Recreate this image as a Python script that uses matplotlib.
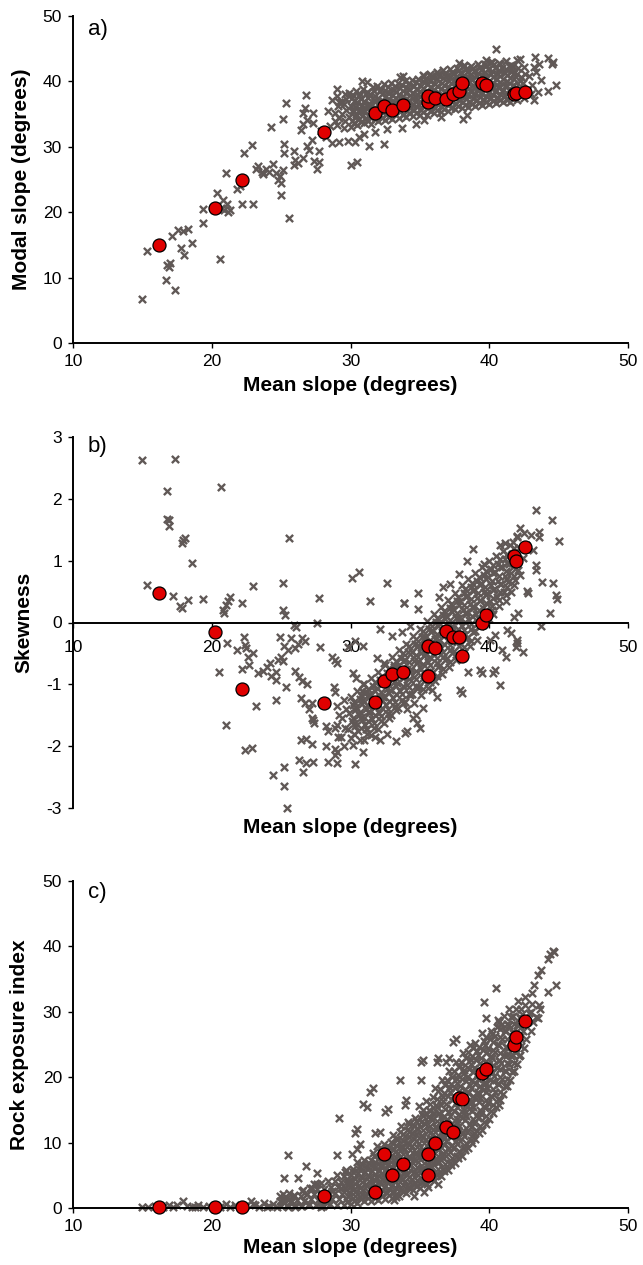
import matplotlib
matplotlib.use("Agg")
import matplotlib.pyplot as plt

plt.rcParams['font.family'] = ['Liberation Sans', 'DejaVu Sans']
plt.rcParams['axes.unicode_minus'] = False

# ---------------- axis / label data ----------------
x_ticks = [10, 20, 30, 40, 50]
a_yticks = [0, 10, 20, 30, 40, 50]
b_yticks = [-3, -2, -1, 0, 1, 2, 3]
c_yticks = [0, 10, 20, 30, 40, 50]
x_label = "Mean slope (degrees)"
a_ylabel = "Modal slope (degrees)"
b_ylabel = "Skewness"
c_ylabel = "Rock exposure index"
panel_tags = ["a)", "b)", "c)"]

# ---------------- red sample sites (shared mean slope) ----------------
site_mean = [16.2, 20.2, 22.2, 28.1, 31.8, 32.4, 33.0, 33.8, 35.6, 35.6,
             36.1, 36.9, 37.4, 37.8, 38.0, 39.5, 39.8, 41.8, 41.9, 42.6]
site_modal = [15.0, 20.6, 25.0, 32.2, 35.2, 36.2, 35.6, 36.4, 36.8, 37.8,
              37.4, 37.3, 38.0, 38.5, 39.8, 39.7, 39.4, 38.0, 38.2, 38.4]
site_skew = [0.47, -0.15, -1.07, -1.30, -1.29, -0.95, -0.84, -0.80, -0.87, -0.38,
             -0.41, -0.14, -0.24, -0.23, -0.54, 0.00, 0.12, 1.08, 1.00, 1.22]
site_rock = [0.2, 0.1, 0.1, 1.8, 2.5, 8.3, 5.0, 6.8, 5.0, 8.2,
             10.0, 12.4, 11.6, 16.8, 16.7, 20.7, 21.3, 25.0, 26.2, 28.6]

# ---------------- panel a: grid cells (grey crosses) ----------------
a_sparse_x = [15.0, 15.3, 16.7, 17.35, 16.8, 17.0, 16.9, 17.8, 18.0, 17.1,
              17.6, 17.9, 18.3, 18.6, 19.35, 19.35, 20.6, 20.4, 21.0, 20.7,
              20.9, 21.1, 21.3, 20.8, 21.2, 22.2, 23.0, 21.8, 22.0, 22.3,
              22.9, 23.2, 23.3, 23.7, 24.1, 24.6, 24.9, 24.8, 25.1, 25.0,
              25.6, 25.0, 24.25, 25.1, 25.35, 25.2, 25.2, 25.9, 26.0, 25.95,
              26.2, 26.6, 26.9, 27.2, 27.0, 27.4, 26.4, 26.6, 26.9, 26.55,
              26.7, 26.8, 27.7, 27.6, 27.7, 27.3, 27.3, 28.7, 29.2, 29.8,
              30.3, 30.0, 30.5, 28.5, 28.9, 28.7, 29.2, 29.7, 31.3, 32.4,
              29.0, 28.4, 27.9, 28.2, 24.4, 23.6, 23.9, 31.0, 30.6, 31.8,
              32.6, 33.7, 34.7, 36.5, 38.1, 38.4, 35.3, 40.5, 43.3, 44.2,
              44.5, 44.6, 44.8, 44.2, 43.2, 43.4, 42.3, 42.2, 42.0, 41.6,
              33.6, 33.8, 31.2, 30.8, 37.8, 38.2, 39.8, 40.1]
a_sparse_y = [6.8, 14.0, 9.6, 8.1, 11.9, 12.2, 11.6, 14.5, 13.5, 16.3,
              17.3, 17.2, 17.4, 15.3, 18.3, 20.5, 12.8, 23.0, 26.0, 20.6,
              20.3, 21.2, 20.4, 21.8, 20.1, 21.2, 21.3, 23.5, 24.0, 29.0,
              30.3, 26.6, 27.1, 25.9, 26.2, 26.0, 25.6, 25.0, 26.4, 24.4,
              19.1, 22.6, 33.0, 34.2, 36.7, 29.0, 30.5, 27.2, 28.0, 29.4,
              27.5, 28.3, 30.1, 31.0, 29.5, 27.8, 32.6, 33.5, 34.1, 35.1,
              36.0, 37.9, 29.3, 26.6, 27.6, 33.6, 35.2, 30.6, 30.8, 30.9,
              30.7, 27.2, 27.6, 33.2, 34.0, 37.1, 36.8, 37.3, 30.1, 30.4,
              38.9, 35.5, 32.4, 31.5, 27.4, 26.1, 26.6, 32.0, 31.5, 32.3,
              32.7, 32.8, 33.5, 34.5, 34.3, 34.8, 34.1, 45.0, 43.7, 43.6,
              42.6, 43.0, 39.4, 38.6, 37.1, 41.4, 40.6, 43.5, 43.2, 42.5,
              40.7, 40.8, 39.9, 40.1, 42.8, 42.5, 43.2, 42.9]

a_dense_x = [29.0, 29.2, 28.9, 29.1, 29.3, 29.0,
             29.5, 29.6, 29.4, 29.7, 29.5, 29.6,
             30.0, 30.1, 29.9, 30.2, 30.0, 30.1, 29.9,
             30.5, 30.6, 30.4, 30.7, 30.5, 30.6, 30.4,
             31.0, 31.1, 30.9, 31.2, 31.0, 31.1, 30.9,
             31.5, 31.4, 31.6, 31.5, 31.7, 31.4, 31.6,
             32.0, 32.1, 31.9, 32.2, 32.0, 32.1, 31.9,
             32.5, 32.6, 32.4, 32.7, 32.5, 32.6, 32.4,
             33.0, 33.1, 32.9, 33.2, 33.0, 33.1, 32.9,
             33.5, 33.6, 33.4, 33.7, 33.5, 33.6, 33.4,
             34.0, 34.1, 33.9, 34.2, 34.0, 34.1, 33.9,
             34.5, 34.6, 34.4, 34.7, 34.5, 34.6, 34.4,
             35.0, 35.1, 34.9, 35.2, 35.0, 35.1, 34.9, 35.2,
             35.5, 35.6, 35.4, 35.7, 35.5, 35.6, 35.4, 35.7,
             36.0, 36.1, 35.9, 36.2, 36.0, 36.1, 35.9, 36.2,
             36.5, 36.6, 36.4, 36.7, 36.5, 36.6, 36.4, 36.7,
             37.0, 37.1, 36.9, 37.2, 37.0, 37.1, 36.9, 37.2,
             37.5, 37.6, 37.4, 37.7, 37.5, 37.6, 37.4, 37.7,
             38.0, 38.1, 37.9, 38.2, 38.0, 38.1, 37.9, 38.2,
             38.5, 38.6, 38.4, 38.7, 38.5, 38.6, 38.4, 38.7,
             39.0, 39.1, 38.9, 39.2, 39.0, 39.1, 38.9, 39.2,
             39.5, 39.6, 39.4, 39.7, 39.5, 39.6, 39.4, 39.7,
             40.0, 40.1, 39.9, 40.2, 40.0, 40.1, 39.9, 40.2,
             40.5, 40.6, 40.4, 40.7, 40.5, 40.6, 40.4, 40.7,
             41.0, 41.1, 40.9, 41.2, 41.0, 41.1, 40.9, 41.2,
             41.5, 41.6, 41.4, 41.7, 41.5, 41.6, 41.4,
             42.0, 42.1, 41.9, 42.2, 42.0, 42.1,
             42.5, 42.7, 42.4, 42.6, 42.5,
             43.0, 43.1, 42.9, 43.2,
             43.5, 43.7, 43.6]
a_dense_y = [33.4, 34.4, 35.1, 36.2, 36.9, 37.7,
             32.9, 34.0, 35.0, 35.7, 36.6, 38.0,
             33.1, 33.9, 34.6, 35.6, 36.3, 37.4, 38.3,
             33.3, 34.2, 35.0, 35.8, 36.9, 37.7, 38.5,
             33.7, 34.4, 35.4, 36.2, 37.0, 38.1, 38.8,
             33.5, 34.6, 35.3, 36.4, 37.2, 38.0, 39.2,
             34.0, 34.8, 35.8, 36.5, 37.5, 38.5, 39.3,
             34.1, 35.0, 35.7, 36.8, 37.6, 38.4, 39.6,
             34.3, 35.1, 36.1, 36.9, 37.9, 38.7, 39.7,
             34.4, 35.4, 36.2, 37.1, 38.0, 39.0, 39.8,
             34.6, 35.4, 36.4, 37.2, 38.2, 39.0, 40.0,
             34.7, 35.6, 36.4, 37.4, 38.2, 39.3, 40.2,
             34.8, 35.6, 36.6, 37.4, 38.4, 39.3, 40.4, 41.0,
             34.9, 35.9, 36.7, 37.7, 38.5, 39.6, 40.4, 41.2,
             35.1, 35.9, 36.9, 37.7, 38.7, 39.6, 40.7, 41.4,
             35.3, 36.1, 37.1, 37.9, 38.9, 39.8, 40.8, 41.7,
             35.5, 36.5, 37.3, 38.3, 39.1, 40.1, 40.9, 41.9,
             35.8, 36.6, 37.6, 38.4, 39.4, 40.2, 41.2, 42.0,
             35.9, 36.9, 37.7, 38.7, 39.5, 40.5, 41.3, 42.3,
             36.1, 36.9, 37.9, 38.7, 39.7, 40.5, 41.5, 42.3,
             36.2, 37.2, 38.0, 39.0, 39.8, 40.8, 41.6, 42.6,
             36.4, 37.2, 38.2, 39.0, 40.0, 40.8, 41.8, 42.6,
             36.5, 37.5, 38.3, 39.3, 40.1, 41.1, 41.9, 42.9,
             36.7, 37.5, 38.5, 39.3, 40.3, 41.1, 42.1, 42.8,
             36.8, 37.7, 38.5, 39.5, 40.3, 41.3, 42.1, 43.1,
             36.9, 37.8, 38.7, 39.5, 40.5, 41.4, 42.3,
             37.1, 38.0, 39.1, 40.0, 41.1, 42.0,
             37.5, 38.7, 39.8, 41.1, 42.2,
             38.1, 39.5, 40.9, 42.2,
             38.4, 40.2, 42.6]

a_core_x = [30.25, 30.3, 30.2, 30.3, 30.25, 30.2,
            30.75, 30.8, 30.7, 30.8, 30.75, 30.7,
            31.25, 31.3, 31.2, 31.3, 31.25, 31.2,
            31.75, 31.8, 31.7, 31.8, 31.75, 31.7,
            32.25, 32.3, 32.2, 32.3, 32.25, 32.2,
            32.75, 32.8, 32.7, 32.8, 32.75, 32.7,
            33.25, 33.3, 33.2, 33.3, 33.25, 33.2,
            33.75, 33.8, 33.7, 33.8, 33.75, 33.7,
            34.25, 34.3, 34.2, 34.3, 34.25, 34.2,
            34.75, 34.8, 34.7, 34.8, 34.75, 34.7,
            35.25, 35.3, 35.2, 35.3, 35.25, 35.2, 35.3,
            35.75, 35.8, 35.7, 35.8, 35.75, 35.7, 35.8,
            36.25, 36.3, 36.2, 36.3, 36.25, 36.2, 36.3,
            36.75, 36.8, 36.7, 36.8, 36.75, 36.7, 36.8,
            37.25, 37.3, 37.2, 37.3, 37.25, 37.2, 37.3,
            37.75, 37.8, 37.7, 37.8, 37.75, 37.7, 37.8,
            38.25, 38.3, 38.2, 38.3, 38.25, 38.2, 38.3,
            38.75, 38.8, 38.7, 38.8, 38.75, 38.7, 38.8,
            39.25, 39.3, 39.2, 39.3, 39.25, 39.2, 39.3,
            39.75, 39.8, 39.7, 39.8, 39.75, 39.7, 39.8,
            40.25, 40.3, 40.2, 40.3, 40.25, 40.2, 40.3,
            40.75, 40.8, 40.7, 40.8, 40.75, 40.7, 40.8,
            41.25, 41.3, 41.2, 41.3, 41.25, 41.2,
            41.75, 41.8, 41.7, 41.8, 41.75, 41.7]
a_core_y = [33.6, 34.5, 35.3, 36.1, 37.0, 37.9,
            33.8, 34.7, 35.5, 36.4, 37.3, 38.1,
            34.0, 34.9, 35.8, 36.6, 37.5, 38.4,
            34.2, 35.1, 36.0, 36.9, 37.7, 38.6,
            34.4, 35.3, 36.2, 37.1, 38.0, 38.9,
            34.6, 35.5, 36.4, 37.3, 38.2, 39.1,
            34.8, 35.7, 36.6, 37.5, 38.4, 39.3,
            34.9, 35.9, 36.8, 37.7, 38.6, 39.5,
            35.1, 36.0, 36.9, 37.9, 38.8, 39.7,
            35.2, 36.1, 37.0, 38.0, 38.9, 39.9,
            35.3, 36.2, 37.1, 38.1, 39.0, 40.0, 40.8,
            35.4, 36.3, 37.3, 38.2, 39.2, 40.1, 40.9,
            35.6, 36.5, 37.4, 38.4, 39.3, 40.3, 41.1,
            35.8, 36.7, 37.6, 38.6, 39.5, 40.5, 41.3,
            36.0, 36.9, 37.8, 38.8, 39.7, 40.6, 41.5,
            36.2, 37.1, 38.0, 39.0, 39.9, 40.8, 41.7,
            36.4, 37.3, 38.2, 39.2, 40.1, 41.0, 41.9,
            36.6, 37.5, 38.4, 39.4, 40.3, 41.2, 42.1,
            36.7, 37.6, 38.6, 39.5, 40.4, 41.3, 42.2,
            36.9, 37.8, 38.7, 39.7, 40.6, 41.5, 42.4,
            37.0, 37.9, 38.9, 39.8, 40.7, 41.6, 42.5,
            37.1, 38.0, 39.0, 39.9, 40.8, 41.8, 42.6,
            37.2, 38.2, 39.1, 40.0, 41.0, 41.9,
            37.4, 38.4, 39.3, 40.3, 41.3, 42.3]

# ---------------- panel b: grid cells ----------------
b_sparse_x = [15.0, 17.35, 16.75, 16.75, 16.95, 16.9, 20.67, 17.95, 17.85, 18.1,
              18.6, 15.3, 17.2, 17.7, 17.85, 18.3, 19.4, 20.8, 20.9, 21.0,
              21.2, 21.3, 22.2, 23.0, 25.6, 25.1, 25.1, 25.3, 25.9, 26.1,
              27.6, 27.7, 30.1, 30.6, 31.4, 30.3, 30.9, 29.8, 24.9, 25.2,
              25.7, 26.2, 26.5, 26.7, 25.5, 26.0, 22.3, 22.5, 21.1, 27.8,
              33.86, 34.9, 21.8, 22.6, 23.0, 22.4, 22.2, 22.7, 23.3, 23.7,
              24.0, 24.2, 24.3, 24.6, 24.6, 24.8, 25.0, 25.1, 25.35, 24.6,
              26.0, 26.3, 26.5, 26.9, 26.4, 26.7, 27.2, 27.0, 27.2, 27.3,
              27.4, 28.2, 28.4, 28.2, 29.0, 28.9, 26.4, 26.8, 27.2, 26.3,
              26.8, 27.3, 26.6, 28.4, 29.0, 25.2, 24.4, 25.2, 25.45, 22.4,
              22.9, 21.0, 20.5, 23.2, 28.9, 28.8, 28.9, 29.0, 28.7, 29.0,
              30.2, 30.4, 30.9, 30.8, 31.0, 30.3, 30.9, 31.0, 33.9, 43.4,
              44.5, 45.0, 43.6, 43.6, 42.2, 41.7, 42.0, 40.8, 41.1, 38.8,
              38.4, 32.6, 33.85, 34.9, 36.7, 43.8, 44.6, 44.8, 44.9, 44.4,
              43.7, 43.4, 43.4, 42.7, 42.8, 42.2, 41.8, 42.1, 42.0, 42.4,
              41.9, 41.6, 42.0, 40.8, 40.4, 40.3, 39.3, 39.45, 38.5, 37.9,
              38.0, 35.85, 36.2, 35.2, 34.5, 34.7, 32.1, 40.05, 40.4, 41.3,
              31.1, 31.8, 32.6, 33.3, 34.1, 35.0, 34.8, 31.9, 32.4, 33.1,
              32.1, 33.0, 33.7, 34.3, 37.2, 37.8, 39.6, 40.9, 41.2, 36.4]
b_sparse_y = [2.63, 2.64, 2.12, 1.68, 1.66, 1.56, 2.19, 1.33, 1.28, 1.37,
              0.97, 0.61, 0.43, 0.27, 0.24, 0.36, 0.38, 0.20, 0.15, 0.28,
              0.35, 0.42, 0.31, 0.59, 1.37, 0.64, 0.20, 0.12, -0.04, -0.08,
              0.00, 0.39, 0.72, 0.82, 0.34, -0.30, -0.38, -0.40, -0.23, -0.38,
              -0.25, -0.34, -0.25, -0.30, -0.45, -0.42, -0.24, -0.42, -0.33, -0.39,
              0.31, 0.22, -0.45, -0.55, -0.50, -0.36, -0.75, -0.68, -0.82, -0.78,
              -0.72, -0.65, -0.86, -0.80, -0.93, -0.60, -0.56, -0.63, -1.05, -1.25,
              -0.78, -0.88, -0.95, -1.00, -1.22, -1.30, -1.30, -1.40, -1.55, -1.58,
              -1.62, -1.68, -1.75, -2.00, -2.10, -2.15, -1.90, -1.88, -1.96, -2.22,
              -2.27, -2.25, -2.42, -2.25, -2.27, -2.33, -2.47, -2.64, -3.00, -2.06,
              -2.03, -1.66, -0.80, -1.35, -0.60, -1.05, -1.12, -1.65, -0.55, -0.66,
              -0.82, -0.90, -1.00, -1.10, -1.14, -2.29, -2.10, -1.90, -1.79, 1.82,
              1.66, 1.31, 1.39, 1.47, 1.53, 1.30, 1.40, 1.25, 1.29, 1.19,
              1.00, 0.64, 0.32, 0.48, 0.57, 0.66, 0.64, 0.45, 0.38, 0.15,
              -0.06, 0.85, 0.93, 0.51, 0.48, 0.77, 0.09, 0.15, -0.33, -0.48,
              -0.40, -0.17, -0.28, -1.01, -0.77, -0.82, -0.77, -0.82, -0.80, -1.09,
              -1.14, -1.09, -1.20, -1.38, -1.55, -1.50, -1.90, -0.28, -0.20, -0.12,
              -1.72, -1.85, -1.80, -1.92, -1.75, -1.70, -1.62, -0.58, -0.65, -0.72,
              -0.10, -0.22, -0.15, -0.05, 0.62, 0.78, 0.95, -0.45, -0.55, 0.42]

b_dense_x = [29.0, 29.15, 28.9, 29.1, 28.85,
             29.5, 29.65, 29.4, 29.6, 29.35, 29.55,
             30.0, 30.15, 29.9, 30.1, 29.85, 30.05, 30.2,
             30.5, 30.65, 30.4, 30.6, 30.35, 30.55, 30.7,
             31.0, 31.15, 30.9, 31.1, 30.85, 31.05, 31.2,
             31.5, 31.65, 31.4, 31.6, 31.35, 31.55, 31.7, 31.45,
             32.0, 32.15, 31.9, 32.1, 31.85, 32.05, 32.2, 31.95,
             32.5, 32.65, 32.4, 32.6, 32.35, 32.55, 32.7, 32.45,
             33.0, 33.15, 32.9, 33.1, 32.85, 33.05, 33.2, 32.95,
             33.5, 33.65, 33.4, 33.6, 33.35, 33.55, 33.7, 33.45,
             34.0, 34.15, 33.9, 34.1, 33.85, 34.05, 34.2, 33.95, 34.1,
             34.5, 34.65, 34.4, 34.6, 34.35, 34.55, 34.7, 34.45, 34.6,
             35.0, 35.15, 34.9, 35.1, 34.85, 35.05, 35.2, 34.95, 35.1,
             35.5, 35.65, 35.4, 35.6, 35.35, 35.55, 35.7, 35.45, 35.6,
             36.0, 36.15, 35.9, 36.1, 35.85, 36.05, 36.2, 35.95, 36.1,
             36.5, 36.65, 36.4, 36.6, 36.35, 36.55, 36.7, 36.45, 36.6,
             37.0, 37.15, 36.9, 37.1, 36.85, 37.05, 37.2, 36.95, 37.1,
             37.5, 37.65, 37.4, 37.6, 37.35, 37.55, 37.7, 37.45, 37.6,
             38.0, 38.15, 37.9, 38.1, 37.85, 38.05, 38.2, 37.95, 38.1,
             38.5, 38.65, 38.4, 38.6, 38.35, 38.55, 38.7, 38.45, 38.6,
             39.0, 39.15, 38.9, 39.1, 38.85, 39.05, 39.2, 38.95, 39.1,
             39.5, 39.65, 39.4, 39.6, 39.35, 39.55, 39.7, 39.45,
             40.0, 40.15, 39.9, 40.1, 39.85, 40.05, 40.2, 39.95,
             40.5, 40.65, 40.4, 40.6, 40.35, 40.55, 40.7,
             41.0, 41.15, 40.9, 41.1, 40.85, 41.05, 41.2,
             41.5, 41.65, 41.4, 41.6, 41.35, 41.55,
             42.0, 42.15, 41.9, 42.1, 41.85,
             42.5, 42.65, 42.4,
             43.0, 43.15]
b_dense_y = [-1.35, -1.50, -1.70, -1.85, -2.05,
             -1.25, -1.40, -1.55, -1.70, -1.85, -2.00,
             -1.20, -1.33, -1.46, -1.60, -1.73, -1.86, -1.98,
             -1.10, -1.23, -1.36, -1.50, -1.63, -1.76, -1.90,
             -1.00, -1.13, -1.26, -1.40, -1.53, -1.66, -1.80,
             -0.90, -1.03, -1.16, -1.30, -1.43, -1.56, -1.70, -1.82,
             -0.80, -0.93, -1.06, -1.20, -1.33, -1.46, -1.60, -1.73,
             -0.68, -0.81, -0.94, -1.08, -1.21, -1.34, -1.48, -1.62,
             -0.56, -0.69, -0.82, -0.96, -1.09, -1.22, -1.36, -1.50,
             -0.45, -0.58, -0.71, -0.85, -0.98, -1.11, -1.25, -1.39,
             -0.35, -0.48, -0.61, -0.75, -0.88, -1.01, -1.15, -1.29, -1.40,
             -0.22, -0.35, -0.48, -0.62, -0.75, -0.88, -1.02, -1.16, -1.30,
             -0.10, -0.23, -0.36, -0.50, -0.63, -0.76, -0.90, -1.04, -1.18,
             0.02, -0.11, -0.24, -0.38, -0.51, -0.64, -0.78, -0.92, -1.06,
             0.14, 0.01, -0.12, -0.26, -0.39, -0.52, -0.66, -0.80, -0.94,
             0.25, 0.12, -0.01, -0.15, -0.28, -0.41, -0.55, -0.69, -0.83,
             0.36, 0.23, 0.10, -0.04, -0.17, -0.30, -0.44, -0.58, -0.72,
             0.48, 0.35, 0.22, 0.08, -0.05, -0.18, -0.32, -0.46, -0.60,
             0.60, 0.47, 0.34, 0.20, 0.07, -0.06, -0.20, -0.34, -0.50,
             0.70, 0.57, 0.44, 0.30, 0.17, 0.04, -0.10, -0.24, -0.38,
             0.80, 0.67, 0.54, 0.40, 0.27, 0.14, 0.00, -0.14, -0.28,
             0.90, 0.77, 0.64, 0.50, 0.37, 0.24, 0.10, -0.04,
             1.00, 0.87, 0.74, 0.60, 0.47, 0.34, 0.20, 0.06,
             1.07, 0.94, 0.81, 0.67, 0.54, 0.41, 0.27,
             1.15, 1.02, 0.89, 0.75, 0.62, 0.49, 0.35,
             1.25, 1.10, 0.95, 0.80, 0.65, 0.50,
             1.38, 1.20, 1.02, 0.85, 0.68,
             1.45, 1.25, 1.05,
             1.42, 1.18]

b_core_x = [30.25, 30.3, 30.2, 30.3, 30.25,
            30.75, 30.8, 30.7, 30.8, 30.75,
            31.25, 31.3, 31.2, 31.3, 31.25, 31.2,
            31.75, 31.8, 31.7, 31.8, 31.75, 31.7,
            32.25, 32.3, 32.2, 32.3, 32.25, 32.2,
            32.75, 32.8, 32.7, 32.8, 32.75, 32.7, 32.8,
            33.25, 33.3, 33.2, 33.3, 33.25, 33.2, 33.3,
            33.75, 33.8, 33.7, 33.8, 33.75, 33.7, 33.8,
            34.25, 34.3, 34.2, 34.3, 34.25, 34.2, 34.3,
            34.75, 34.8, 34.7, 34.8, 34.75, 34.7, 34.8,
            35.25, 35.3, 35.2, 35.3, 35.25, 35.2, 35.3, 35.2,
            35.75, 35.8, 35.7, 35.8, 35.75, 35.7, 35.8, 35.7,
            36.25, 36.3, 36.2, 36.3, 36.25, 36.2, 36.3, 36.2,
            36.75, 36.8, 36.7, 36.8, 36.75, 36.7, 36.8, 36.7,
            37.25, 37.3, 37.2, 37.3, 37.25, 37.2, 37.3, 37.2,
            37.75, 37.8, 37.7, 37.8, 37.75, 37.7, 37.8, 37.7,
            38.25, 38.3, 38.2, 38.3, 38.25, 38.2, 38.3, 38.2,
            38.75, 38.8, 38.7, 38.8, 38.75, 38.7, 38.8, 38.7,
            39.25, 39.3, 39.2, 39.3, 39.25, 39.2, 39.3,
            39.75, 39.8, 39.7, 39.8, 39.75, 39.7, 39.8,
            40.25, 40.3, 40.2, 40.3, 40.25, 40.2, 40.3,
            40.75, 40.8, 40.7, 40.8, 40.75, 40.7,
            41.25, 41.3, 41.2, 41.3, 41.25, 41.2,
            41.75, 41.8, 41.7, 41.8, 41.75]
b_core_y = [-1.28, -1.42, -1.55, -1.68, -1.80,
            -1.18, -1.31, -1.44, -1.57, -1.70,
            -1.08, -1.21, -1.34, -1.47, -1.60, -1.73,
            -0.97, -1.10, -1.23, -1.37, -1.50, -1.63,
            -0.86, -0.99, -1.12, -1.26, -1.39, -1.52,
            -0.74, -0.87, -1.00, -1.14, -1.27, -1.40, -1.54,
            -0.62, -0.75, -0.88, -1.02, -1.15, -1.28, -1.42,
            -0.50, -0.63, -0.76, -0.90, -1.03, -1.16, -1.30,
            -0.38, -0.51, -0.64, -0.78, -0.91, -1.04, -1.18,
            -0.26, -0.39, -0.52, -0.66, -0.79, -0.92, -1.06,
            -0.14, -0.27, -0.40, -0.54, -0.67, -0.80, -0.94, -1.08,
            -0.03, -0.16, -0.29, -0.43, -0.56, -0.69, -0.83, -0.97,
            0.08, -0.05, -0.18, -0.32, -0.45, -0.58, -0.72, -0.86,
            0.19, 0.06, -0.07, -0.21, -0.34, -0.47, -0.61, -0.75,
            0.30, 0.17, 0.04, -0.10, -0.23, -0.36, -0.50, -0.64,
            0.42, 0.29, 0.16, 0.02, -0.11, -0.24, -0.38, -0.52,
            0.54, 0.41, 0.28, 0.14, 0.01, -0.12, -0.26, -0.40,
            0.64, 0.51, 0.38, 0.24, 0.11, -0.02, -0.16, -0.30,
            0.74, 0.61, 0.48, 0.34, 0.21, 0.08, -0.06,
            0.84, 0.71, 0.58, 0.44, 0.31, 0.18, 0.04,
            0.93, 0.80, 0.67, 0.53, 0.40, 0.27, 0.13,
            1.02, 0.89, 0.76, 0.62, 0.49, 0.36,
            1.10, 0.97, 0.84, 0.70, 0.57, 0.44,
            1.20, 1.05, 0.90, 0.75, 0.60]

# ---------------- panel c: grid cells ----------------
c_sparse_x = [15.0, 15.4, 15.9, 16.5, 16.9, 17.2, 17.5, 17.9, 18.2, 18.6,
              19.0, 19.4, 19.8, 20.6, 21.0, 21.3, 21.7, 22.4, 22.8, 23.1,
              23.4, 23.8, 24.1, 24.4, 24.7, 24.9, 25.2, 25.4, 25.7, 26.0,
              25.5, 25.2, 26.2, 26.8, 27.6, 27.6, 26.5, 26.9, 27.2, 25.1,
              25.6, 25.9, 29.0, 29.2, 29.6, 29.9, 29.8, 28.4, 28.7, 29.3,
              30.1, 30.5, 30.7, 30.3, 30.5, 30.9, 31.2, 31.4, 31.6, 31.8,
              32.1, 32.5, 32.7, 33.6, 33.9, 34.0, 35.1, 35.2, 35.1, 36.2,
              36.3, 36.9, 37.1, 37.4, 37.6, 39.6, 40.5, 39.8, 42.0, 42.3,
              43.0, 43.4, 43.6, 43.1, 42.6, 43.2, 43.5, 43.7, 44.2, 44.4,
              44.6, 44.7, 44.2, 44.8, 40.7, 38.9, 35.6, 33.1, 33.3, 35.3,
              34.6, 36.3, 26.4, 27.0, 27.9, 28.3, 24.0, 23.0, 20.2, 18.8]
c_sparse_y = [0.2, 0.1, 0.3, 0.2, 0.5, 0.1, 0.4, 1.0, 0.3, 0.2,
              0.5, 0.1, 0.3, 0.2, 0.6, 0.1, 0.4, 0.3, 1.1, 0.4,
              0.2, 0.8, 0.3, 0.6, 0.2, 1.1, 1.6, 0.5, 0.9, 0.2,
              8.1, 4.6, 4.6, 6.4, 5.3, 3.7, 2.6, 2.2, 3.0, 2.2,
              1.4, 1.9, 8.1, 13.7, 5.5, 4.2, 3.5, 1.9, 2.6, 3.0,
              8.3, 9.0, 9.8, 11.4, 12.1, 15.9, 15.5, 17.8, 18.3, 11.4,
              11.6, 14.7, 15.2, 19.5, 15.7, 16.5, 22.3, 22.7, 19.5, 22.3,
              22.9, 22.4, 22.9, 25.4, 25.9, 31.5, 33.6, 29.0, 28.0, 30.5,
              30.0, 29.2, 31.0, 32.8, 32.2, 34.1, 35.6, 36.4, 38.0, 38.8,
              39.3, 39.1, 33.1, 34.1, 15.7, 11.4, 3.2, 1.2, 1.7, 2.5,
              1.9, 3.6, 0.3, 0.6, 0.2, 0.8, 0.1, 0.6, 0.4, 0.1]

c_dense_x = [25.0, 25.15, 24.9,
             25.5, 25.65, 25.4, 25.6,
             26.0, 26.15, 25.9,
             26.5, 26.65, 26.4, 26.6,
             27.0, 27.15, 26.9, 27.1,
             27.5, 27.65, 27.4, 27.6, 27.35,
             28.0, 28.15, 27.9, 28.1, 27.85,
             28.5, 28.65, 28.4, 28.6, 28.35,
             29.0, 29.15, 28.9, 29.1, 28.85, 29.05,
             29.5, 29.65, 29.4, 29.6, 29.35, 29.55, 29.7,
             30.0, 30.15, 29.9, 30.1, 29.85, 30.05, 30.2,
             30.5, 30.65, 30.4, 30.6, 30.35, 30.55, 30.7, 30.45,
             31.0, 31.15, 30.9, 31.1, 30.85, 31.05, 31.2, 30.95,
             31.5, 31.65, 31.4, 31.6, 31.35, 31.55, 31.7, 31.45, 31.6,
             32.0, 32.15, 31.9, 32.1, 31.85, 32.05, 32.2, 31.95, 32.1, 31.9,
             32.5, 32.65, 32.4, 32.6, 32.35, 32.55, 32.7, 32.45, 32.6, 32.4,
             33.0, 33.15, 32.9, 33.1, 32.85, 33.05, 33.2, 32.95, 33.1, 32.9, 33.05,
             33.5, 33.65, 33.4, 33.6, 33.35, 33.55, 33.7, 33.45, 33.6, 33.4, 33.55, 33.65,
             34.0, 34.15, 33.9, 34.1, 33.85, 34.05, 34.2, 33.95, 34.1, 33.9, 34.05, 34.15,
             34.5, 34.65, 34.4, 34.6, 34.35, 34.55, 34.7, 34.45, 34.6, 34.4, 34.55, 34.65,
             35.0, 35.15, 34.9, 35.1, 34.85, 35.05, 35.2, 34.95, 35.1, 34.9, 35.05, 35.15, 34.95,
             35.5, 35.65, 35.4, 35.6, 35.35, 35.55, 35.7, 35.45, 35.6, 35.4, 35.55, 35.65, 35.45,
             36.0, 36.15, 35.9, 36.1, 35.85, 36.05, 36.2, 35.95, 36.1, 35.9, 36.05, 36.15, 35.95, 36.1,
             36.5, 36.65, 36.4, 36.6, 36.35, 36.55, 36.7, 36.45, 36.6, 36.4, 36.55, 36.65, 36.45, 36.6,
             37.0, 37.15, 36.9, 37.1, 36.85, 37.05, 37.2, 36.95, 37.1, 36.9, 37.05, 37.15, 36.95, 37.1,
             37.5, 37.65, 37.4, 37.6, 37.35, 37.55, 37.7, 37.45, 37.6, 37.4, 37.55, 37.65, 37.45, 37.6,
             38.0, 38.15, 37.9, 38.1, 37.85, 38.05, 38.2, 37.95, 38.1, 37.9, 38.05, 38.15, 37.95, 38.1,
             38.5, 38.65, 38.4, 38.6, 38.35, 38.55, 38.7, 38.45, 38.6, 38.4, 38.55, 38.65, 38.45, 38.6,
             39.0, 39.15, 38.9, 39.1, 38.85, 39.05, 39.2, 38.95, 39.1, 38.9, 39.05, 39.15, 38.95,
             39.5, 39.65, 39.4, 39.6, 39.35, 39.55, 39.7, 39.45, 39.6, 39.4, 39.55, 39.65, 39.45,
             40.0, 40.15, 39.9, 40.1, 39.85, 40.05, 40.2, 39.95, 40.1, 39.9, 40.05, 40.15,
             40.5, 40.65, 40.4, 40.6, 40.35, 40.55, 40.7, 40.45, 40.6, 40.4, 40.55, 40.65,
             41.0, 41.15, 40.9, 41.1, 40.85, 41.05, 41.2, 40.95, 41.1, 40.9, 41.05,
             41.5, 41.65, 41.4, 41.6, 41.35, 41.55, 41.7, 41.45, 41.6, 41.4,
             42.0, 42.15, 41.9, 42.1, 41.85, 42.05, 42.2, 41.95, 42.1,
             42.5, 42.65, 42.4, 42.6, 42.35, 42.55,
             43.0, 43.15, 42.9, 43.1,
             43.5, 43.65]
c_dense_y = [0.3, 1.0, 1.8,
             0.2, 0.9, 1.6, 2.3,
             0.4, 1.2, 2.0,
             0.3, 1.1, 1.9, 2.7,
             0.5, 1.3, 2.2, 3.0,
             0.4, 1.2, 2.1, 2.9, 3.6,
             0.3, 1.1, 2.0, 2.9, 3.8,
             0.6, 1.4, 2.3, 3.2, 4.1,
             0.5, 1.4, 2.3, 3.2, 4.1, 5.0,
             0.4, 1.3, 2.2, 3.1, 4.0, 4.9, 5.8,
             0.6, 1.5, 2.4, 3.3, 4.2, 5.1, 6.0,
             0.8, 1.7, 2.6, 3.5, 4.4, 5.3, 6.2, 7.1,
             1.0, 1.9, 2.8, 3.7, 4.6, 5.5, 6.4, 7.3,
             1.1, 2.0, 2.9, 3.8, 4.7, 5.6, 6.5, 7.4, 8.4,
             1.2, 2.1, 3.0, 3.9, 4.8, 5.7, 6.6, 7.5, 8.5, 9.5,
             1.4, 2.3, 3.2, 4.1, 5.0, 5.9, 6.8, 7.7, 8.7, 9.8,
             1.6, 2.5, 3.4, 4.3, 5.2, 6.1, 7.0, 8.0, 9.0, 10.1, 11.2,
             1.9, 2.8, 3.7, 4.6, 5.5, 6.4, 7.4, 8.4, 9.4, 10.5, 11.6, 12.5,
             2.3, 3.2, 4.1, 5.0, 6.0, 7.0, 8.0, 9.0, 10.0, 11.0, 12.0, 13.2,
             2.7, 3.6, 4.5, 5.5, 6.5, 7.5, 8.5, 9.5, 10.5, 11.5, 12.6, 13.8,
             3.1, 4.0, 5.0, 6.0, 7.0, 8.0, 9.0, 10.0, 11.0, 12.1, 13.2, 14.4, 15.6,
             3.6, 4.6, 5.6, 6.6, 7.6, 8.6, 9.6, 10.6, 11.7, 12.8, 13.9, 15.0, 16.3,
             4.2, 5.2, 6.2, 7.2, 8.2, 9.2, 10.2, 11.3, 12.4, 13.5, 14.6, 15.8, 17.0, 18.4,
             4.9, 6.0, 7.0, 8.0, 9.0, 10.1, 11.2, 12.3, 13.4, 14.5, 15.7, 16.9, 18.2, 19.6,
             5.8, 6.9, 8.0, 9.1, 10.2, 11.3, 12.4, 13.5, 14.7, 15.9, 17.1, 18.3, 19.6, 21.0,
             6.9, 8.0, 9.1, 10.2, 11.3, 12.4, 13.6, 14.8, 16.0, 17.2, 18.4, 19.7, 21.0, 22.3,
             8.0, 9.1, 10.2, 11.4, 12.6, 13.8, 15.0, 16.2, 17.4, 18.6, 19.8, 21.1, 22.4, 23.7,
             9.2, 10.4, 11.6, 12.8, 14.0, 15.2, 16.4, 17.6, 18.8, 20.0, 21.3, 22.6, 23.9, 25.0,
             10.6, 11.8, 13.0, 14.2, 15.4, 16.6, 17.8, 19.0, 20.2, 21.4, 22.7, 24.0, 25.3,
             12.0, 13.2, 14.4, 15.6, 16.8, 18.0, 19.2, 20.4, 21.6, 22.9, 24.2, 25.5, 26.8,
             13.6, 14.8, 16.0, 17.2, 18.4, 19.6, 20.8, 22.0, 23.2, 24.5, 25.8, 27.1,
             15.4, 16.6, 17.8, 19.0, 20.2, 21.4, 22.6, 23.8, 25.0, 26.3, 27.6, 28.8,
             17.4, 18.6, 19.8, 21.0, 22.2, 23.4, 24.6, 25.8, 27.0, 28.2, 29.4,
             19.6, 20.8, 22.0, 23.2, 24.4, 25.6, 26.8, 28.0, 29.2, 30.4,
             22.0, 23.2, 24.4, 25.6, 26.8, 28.0, 29.2, 30.4, 31.6,
             24.5, 25.8, 27.1, 28.4, 29.7, 31.0,
             27.0, 28.4, 29.8, 31.2,
             29.0, 30.5]

c_core_x = [29.75, 29.8, 29.7, 29.8, 29.75,
            30.25, 30.3, 30.2, 30.3, 30.25, 30.2,
            30.75, 30.8, 30.7, 30.8, 30.75, 30.7, 30.8,
            31.25, 31.3, 31.2, 31.3, 31.25, 31.2, 31.3,
            31.75, 31.8, 31.7, 31.8, 31.75, 31.7, 31.8, 31.7,
            32.25, 32.3, 32.2, 32.3, 32.25, 32.2, 32.3, 32.2, 32.25,
            32.75, 32.8, 32.7, 32.8, 32.75, 32.7, 32.8, 32.7, 32.75,
            33.25, 33.3, 33.2, 33.3, 33.25, 33.2, 33.3, 33.2, 33.25, 33.3,
            33.75, 33.8, 33.7, 33.8, 33.75, 33.7, 33.8, 33.7, 33.75, 33.8,
            34.25, 34.3, 34.2, 34.3, 34.25, 34.2, 34.3, 34.2, 34.25, 34.3, 34.2,
            34.75, 34.8, 34.7, 34.8, 34.75, 34.7, 34.8, 34.7, 34.75, 34.8, 34.7,
            35.25, 35.3, 35.2, 35.3, 35.25, 35.2, 35.3, 35.2, 35.25, 35.3, 35.2, 35.25,
            35.75, 35.8, 35.7, 35.8, 35.75, 35.7, 35.8, 35.7, 35.75, 35.8, 35.7, 35.75,
            36.25, 36.3, 36.2, 36.3, 36.25, 36.2, 36.3, 36.2, 36.25, 36.3, 36.2, 36.25, 36.3,
            36.75, 36.8, 36.7, 36.8, 36.75, 36.7, 36.8, 36.7, 36.75, 36.8, 36.7, 36.75, 36.8,
            37.25, 37.3, 37.2, 37.3, 37.25, 37.2, 37.3, 37.2, 37.25, 37.3, 37.2, 37.25, 37.3,
            37.75, 37.8, 37.7, 37.8, 37.75, 37.7, 37.8, 37.7, 37.75, 37.8, 37.7, 37.75, 37.8,
            38.25, 38.3, 38.2, 38.3, 38.25, 38.2, 38.3, 38.2, 38.25, 38.3, 38.2, 38.25, 38.3,
            38.75, 38.8, 38.7, 38.8, 38.75, 38.7, 38.8, 38.7, 38.75, 38.8, 38.7, 38.75, 38.8,
            39.25, 39.3, 39.2, 39.3, 39.25, 39.2, 39.3, 39.2, 39.25, 39.3, 39.2, 39.25,
            39.75, 39.8, 39.7, 39.8, 39.75, 39.7, 39.8, 39.7, 39.75, 39.8, 39.7, 39.75,
            40.25, 40.3, 40.2, 40.3, 40.25, 40.2, 40.3, 40.2, 40.25, 40.3, 40.2,
            40.75, 40.8, 40.7, 40.8, 40.75, 40.7, 40.8, 40.7, 40.75, 40.8, 40.7,
            41.25, 41.3, 41.2, 41.3, 41.25, 41.2, 41.3, 41.2, 41.25,
            41.75, 41.8, 41.7, 41.8, 41.75, 41.7, 41.8, 41.7,
            42.25, 42.3, 42.2, 42.3, 42.25]
c_core_y = [0.9, 1.8, 2.7, 3.6, 4.5,
            1.0, 1.9, 2.8, 3.7, 4.6, 5.5,
            1.3, 2.2, 3.1, 4.0, 4.9, 5.8, 6.7,
            1.5, 2.4, 3.3, 4.2, 5.1, 6.0, 6.9,
            1.6, 2.5, 3.4, 4.3, 5.2, 6.1, 7.0, 7.9,
            1.8, 2.7, 3.6, 4.5, 5.4, 6.3, 7.2, 8.1, 9.0,
            2.0, 2.9, 3.8, 4.7, 5.6, 6.5, 7.4, 8.3, 9.3,
            2.2, 3.1, 4.0, 4.9, 5.8, 6.7, 7.6, 8.6, 9.6, 10.6,
            2.6, 3.5, 4.4, 5.3, 6.3, 7.3, 8.3, 9.3, 10.3, 11.3,
            3.0, 3.9, 4.8, 5.8, 6.8, 7.8, 8.8, 9.8, 10.8, 11.8, 12.8,
            3.4, 4.3, 5.3, 6.3, 7.3, 8.3, 9.3, 10.3, 11.3, 12.3, 13.3,
            3.9, 4.9, 5.9, 6.9, 7.9, 8.9, 9.9, 10.9, 11.9, 13.0, 14.1, 15.0,
            4.4, 5.4, 6.4, 7.4, 8.4, 9.4, 10.4, 11.5, 12.6, 13.7, 14.8, 15.9,
            5.0, 6.0, 7.0, 8.0, 9.0, 10.0, 11.1, 12.2, 13.3, 14.4, 15.5, 16.7, 17.9,
            5.7, 6.7, 7.7, 8.7, 9.7, 10.8, 11.9, 13.0, 14.1, 15.2, 16.4, 17.6, 18.8,
            6.6, 7.6, 8.6, 9.7, 10.8, 11.9, 13.0, 14.1, 15.3, 16.5, 17.7, 18.9, 20.1,
            7.6, 8.7, 9.8, 10.9, 12.0, 13.1, 14.3, 15.5, 16.7, 17.9, 19.1, 20.3, 21.6,
            8.8, 9.9, 11.0, 12.2, 13.4, 14.6, 15.8, 17.0, 18.2, 19.4, 20.6, 21.8, 23.0,
            10.0, 11.2, 12.4, 13.6, 14.8, 16.0, 17.2, 18.4, 19.6, 20.8, 22.0, 23.2, 24.4,
            11.4, 12.6, 13.8, 15.0, 16.2, 17.4, 18.6, 19.8, 21.0, 22.2, 23.4, 24.6,
            12.9, 14.1, 15.3, 16.5, 17.7, 18.9, 20.1, 21.3, 22.5, 23.7, 24.9, 26.1,
            14.6, 15.8, 17.0, 18.2, 19.4, 20.6, 21.8, 23.0, 24.2, 25.4, 26.6,
            16.5, 17.7, 18.9, 20.1, 21.3, 22.5, 23.7, 24.9, 26.1, 27.3, 28.4,
            18.6, 19.8, 21.0, 22.2, 23.4, 24.6, 25.8, 27.0, 28.2,
            21.0, 22.2, 23.4, 24.6, 25.8, 27.0, 28.2, 29.4,
            23.4, 24.8, 26.2, 27.6, 29.0]

# ---------------- figure ----------------
W, H = 643, 1265
fig = plt.figure(figsize=(W / 100, H / 100), dpi=100)
left = 73 / W
width = 555 / W
ax_a = fig.add_axes([left, (H - 343) / H, width, 327 / H])
ax_b = fig.add_axes([left, (H - 808) / H, width, 371 / H])
ax_c = fig.add_axes([left, (H - 1208) / H, width, 327 / H])

grey = '#605856'
red = '#e00000'


def pairs(xs, ys):
    n = min(len(xs), len(ys))
    return xs[:n], ys[:n]


def draw(ax, groups, sx, sy):
    for xs, ys in groups:
        xs, ys = pairs(xs, ys)
        ax.scatter(xs, ys, marker='x', s=27, linewidths=1.7, color=grey,
                   zorder=2, clip_on=False)
    ax.scatter(sx, sy, marker='o', s=88, facecolor=red, edgecolor='black',
               linewidths=0.9, zorder=4, clip_on=False)


draw(ax_a, [(a_sparse_x, a_sparse_y), (a_dense_x, a_dense_y), (a_core_x, a_core_y)],
     site_mean, site_modal)
draw(ax_b, [(b_sparse_x, b_sparse_y), (b_dense_x, b_dense_y), (b_core_x, b_core_y)],
     site_mean, site_skew)
draw(ax_c, [(c_sparse_x, c_sparse_y), (c_dense_x, c_dense_y), (c_core_x, c_core_y)],
     site_mean, site_rock)

for ax, yt, lab in [(ax_a, a_yticks, a_ylabel), (ax_b, b_yticks, b_ylabel),
                    (ax_c, c_yticks, c_ylabel)]:
    ax.set_xlim(10, 50)
    ax.set_ylim(yt[0], yt[-1])
    ax.set_xticks(x_ticks)
    ax.set_yticks(yt)
    ax.set_yticklabels([str(v) for v in yt])
    ax.spines['top'].set_visible(False)
    ax.spines['right'].set_visible(False)
    for s in ('left', 'bottom'):
        ax.spines[s].set_linewidth(1.4)
        ax.spines[s].set_zorder(3)
    ax.tick_params(axis='both', direction='out', length=3.6, width=1.0,
                   labelsize=12.5, colors='black')
    ax.tick_params(axis='y', pad=4.3)
    ax.tick_params(axis='x', pad=4.5)
    ax.set_ylabel(lab, fontsize=15, fontweight='bold')
    ax.set_xlabel(x_label, fontsize=15, fontweight='bold')
    ax.patch.set_alpha(0)

ax_b.spines['bottom'].set_position(('data', 0))
ax_b.tick_params(axis='x', pad=9.0)

ax_a.yaxis.set_label_coords(-0.076, 0.5)
ax_b.yaxis.set_label_coords(-0.072, 0.5)
ax_c.yaxis.set_label_coords(-0.079, 0.5)
ax_a.xaxis.set_label_coords(0.5, -0.101)
ax_b.xaxis.set_label_coords(0.5, -0.027)
ax_c.xaxis.set_label_coords(0.5, -0.092)

for ax, tag, yb in [(ax_a, panel_tags[0], 0.941), (ax_b, panel_tags[1], 0.96),
                    (ax_c, panel_tags[2], 0.948)]:
    ax.text(0.027, yb, tag, transform=ax.transAxes, fontsize=16,
            ha='left', va='baseline')

fig.savefig('out.png', dpi=100)
